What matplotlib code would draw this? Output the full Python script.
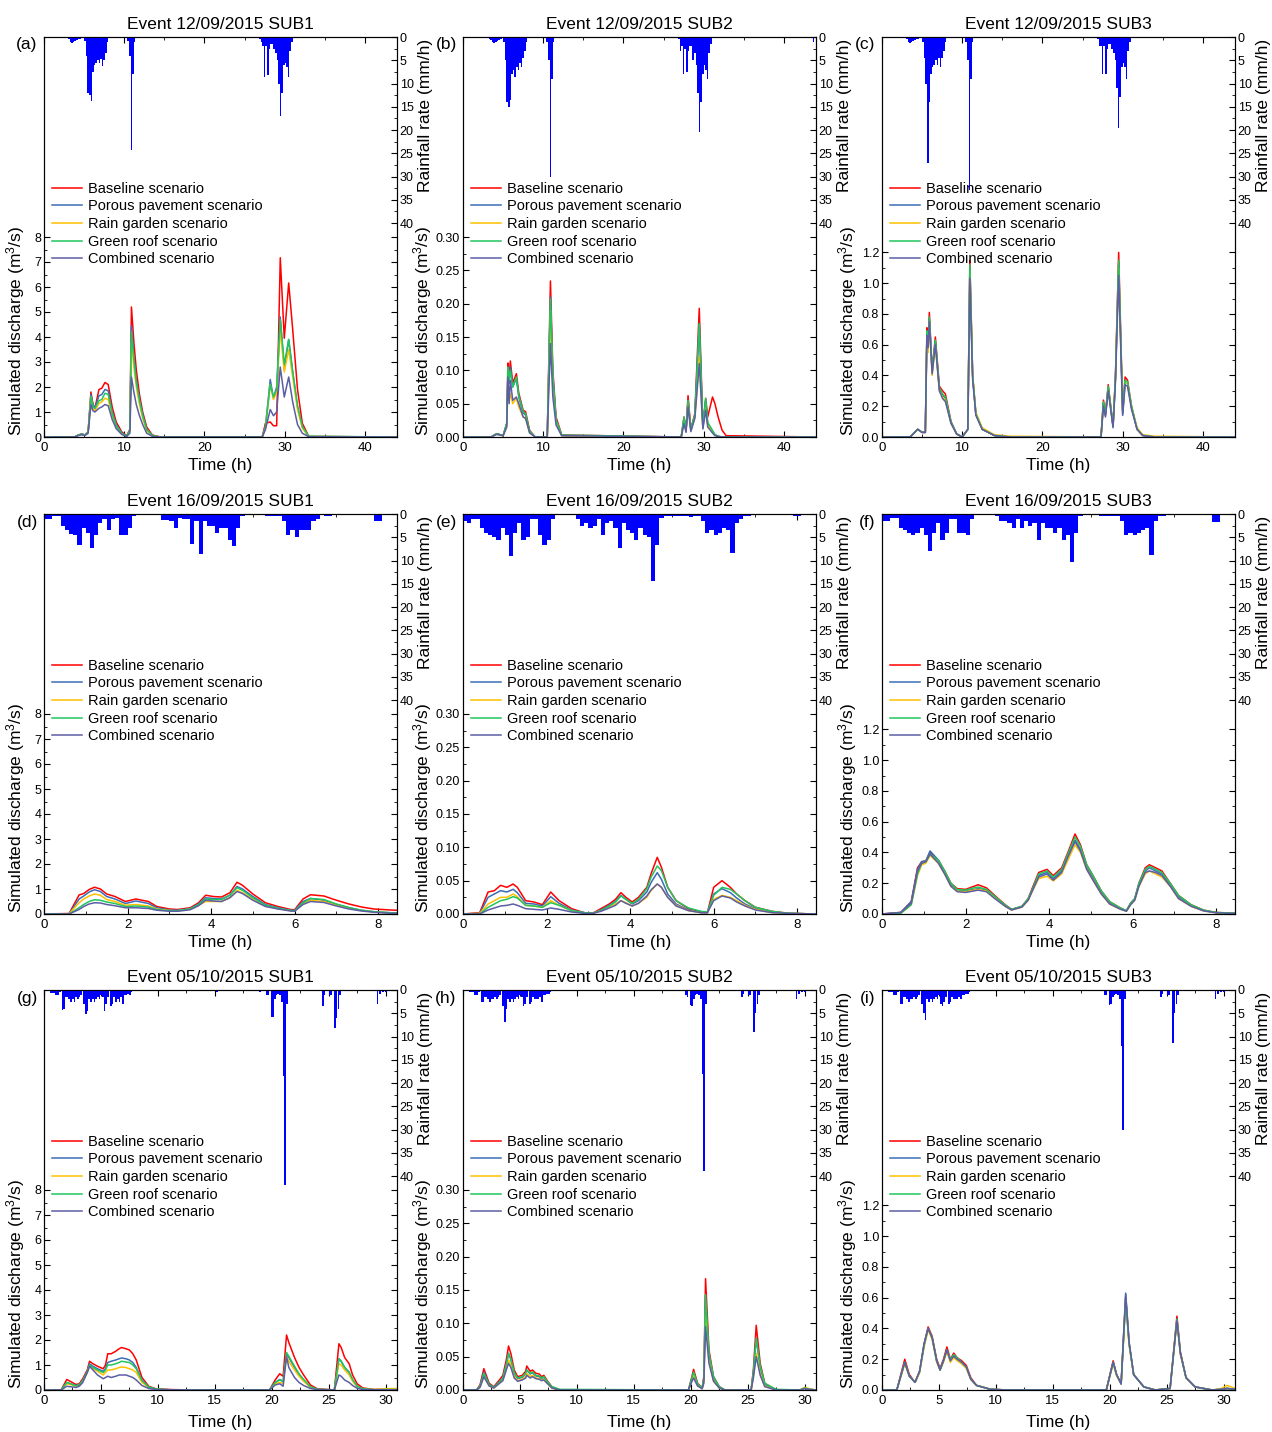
import matplotlib.pyplot as plt
from matplotlib.ticker import FixedLocator, MultipleLocator, FormatStrFormatter

plt.rcParams["font.family"] = ["Liberation Sans", "DejaVu Sans"]
plt.rcParams["font.size"] = 10
plt.rcParams["mathtext.default"] = "regular"
plt.rcParams["xtick.direction"] = "in"
plt.rcParams["ytick.direction"] = "in"

scenarios = ["Baseline scenario", "Porous pavement scenario", "Rain garden scenario",
             "Green roof scenario", "Combined scenario"]
line_colors = ["#ff0000", "#3a6db5", "#ffc000", "#22c55e", "#5c5ea5"]

# ---------------- rainfall (bar start time in h, rate in mm/h) ----------------
rain_t_ev1 = [2.8, 3.0, 3.2, 3.4, 3.6, 3.8, 4.0, 4.2, 4.4, 4.6,
              5.0, 5.2, 5.4, 5.6, 5.8, 6.0, 6.2, 6.4, 6.6, 6.8, 7.0, 7.2, 7.4, 7.6, 7.8,
              10.4, 10.6, 10.8, 11.0, 11.2,
              26.8, 27.0, 27.2, 27.4, 27.6, 27.8, 28.0, 28.2, 28.4, 28.6, 28.8,
              29.0, 29.2, 29.4, 29.6, 29.8, 30.0, 30.2, 30.4, 30.6, 30.8,
              40.8, 43.6]
rain_a = [0.3, 0.4, 1.0, 1.3, 1.0, 0.8, 0.6, 0.5, 0.4, 0.3,
          0.8, 4.0, 12.0, 12.5, 13.8, 7.5, 6.0, 5.5, 5.0, 5.5, 4.8, 6.2, 5.0, 3.5, 1.0,
          0.8, 4.0, 24.2, 8.0, 1.0,
          0.5, 1.0, 2.0, 8.7, 2.0, 8.2, 2.5, 1.5, 1.5, 2.5, 3.5,
          5.0, 10.0, 17.0, 12.0, 6.0, 5.5, 6.5, 8.5, 3.0, 1.0,
          0.3, 0.3]
rain_b = [0.2, 0.3, 0.5, 0.6, 1.0, 1.2, 1.0, 0.8, 0.6, 0.5,
          1.0, 5.0, 14.0, 15.0, 13.5, 8.0, 7.0, 8.5, 6.5, 7.0, 5.5, 6.5, 4.5, 3.0, 1.0,
          1.0, 5.0, 30.0, 9.0, 1.0,
          0.5, 3.0, 2.0, 8.0, 2.5, 7.5, 3.0, 2.0, 2.0, 5.0, 3.5,
          6.0, 12.0, 20.5, 14.0, 8.0, 6.0, 7.0, 9.0, 3.5, 1.5,
          0.3, 1.0]
rain_c = [0.3, 0.5, 1.0, 1.2, 1.0, 0.8, 0.6, 0.5, 0.4, 0.3,
          1.0, 4.5, 10.0, 27.0, 14.0, 8.0, 6.5, 6.0, 5.0, 6.0, 4.5, 6.5, 4.5, 3.0, 1.0,
          1.0, 5.0, 33.0, 9.0, 1.0,
          0.5, 2.0, 2.0, 8.0, 2.0, 8.0, 2.5, 1.5, 1.5, 2.5, 3.5,
          5.0, 11.0, 19.5, 13.0, 6.5, 5.5, 6.5, 9.0, 3.0, 1.0,
          0.3, 0.3]

rain_t_ev2 = [0.0, 0.1, 0.2, 0.3, 0.4, 0.5, 0.6, 0.7, 0.8, 0.9,
              1.0, 1.1, 1.2, 1.3, 1.4, 1.5, 1.6, 1.7, 1.8, 1.9,
              2.0, 2.1, 2.2, 2.3, 2.4, 2.5, 2.6, 2.7, 2.8, 2.9,
              3.0, 3.1, 3.2, 3.3, 3.4, 3.5, 3.6, 3.7, 3.8, 3.9,
              4.0, 4.1, 4.2, 4.3, 4.4, 4.5, 4.6, 4.7, 4.8, 4.9,
              5.0, 5.1, 5.2, 5.3, 5.4, 5.5, 5.6, 5.7, 5.8, 5.9,
              6.0, 6.1, 6.2, 6.3, 6.4, 6.5, 6.6, 6.7, 6.8,
              7.9, 8.0]
rain_d = [1.0, 1.0, 0.5, 0.5, 2.5, 3.5, 4.2, 4.5, 6.7, 3.0,
          4.0, 7.3, 4.5, 2.0, 1.0, 3.5, 1.0, 0.8, 4.5, 4.5,
          3.0, 0.5, 0.2, 0.1, 0.1, 0.1, 0.2, 0.3, 1.2, 1.2,
          1.5, 3.0, 0.8, 1.0, 1.0, 6.5, 1.5, 8.5, 1.5, 2.5,
          2.5, 4.0, 3.0, 3.0, 5.5, 6.8, 3.0, 0.4, 0.3, 0.3,
          0.3, 0.3, 0.3, 0.4, 0.5, 0.4, 0.4, 1.5, 4.5, 3.5,
          5.0, 3.5, 3.5, 3.5, 1.5, 1.0, 0.3, 0.5, 0.5,
          1.5, 1.5]
rain_e = [1.5, 2.0, 1.0, 1.0, 3.0, 4.0, 4.5, 5.0, 5.5, 3.0,
          4.5, 9.0, 4.0, 2.0, 5.6, 5.0, 1.0, 1.0, 4.5, 6.7,
          5.5, 1.0, 0.3, 0.2, 0.2, 0.2, 0.3, 1.0, 2.5, 2.0,
          3.0, 2.5, 1.0, 4.5, 2.0, 1.5, 3.0, 7.4, 2.0, 3.5,
          4.0, 5.6, 3.0, 4.5, 5.0, 14.3, 6.7, 0.8, 0.5, 0.5,
          0.4, 0.4, 0.5, 0.5, 0.6, 0.5, 0.5, 1.5, 4.0, 3.5,
          4.5, 4.0, 3.0, 3.5, 8.4, 2.0, 1.0, 0.5, 0.5,
          0.5, 0.5]
rain_f = [1.5, 1.5, 0.8, 0.8, 3.0, 3.5, 4.0, 4.5, 4.0, 3.0,
          4.5, 8.0, 4.0, 2.0, 5.6, 4.0, 1.0, 1.0, 4.0, 4.0,
          4.5, 1.0, 0.2, 0.1, 0.1, 0.2, 0.3, 0.5, 1.5, 1.5,
          2.0, 3.0, 1.0, 3.0, 1.5, 2.5, 2.0, 5.6, 2.0, 3.0,
          3.0, 4.0, 3.0, 5.6, 4.5, 10.4, 4.0, 0.5, 0.3, 0.3,
          0.3, 0.3, 0.4, 0.4, 0.5, 0.4, 0.4, 1.5, 4.5, 4.0,
          4.5, 4.0, 3.5, 3.0, 8.9, 1.5, 0.5, 0.5, 0.3,
          1.7, 1.7]

rain_t_ev3 = [0.5, 0.65, 0.8, 1.0, 1.15, 1.3, 1.55, 1.7, 1.85, 2.0,
              2.15, 2.3, 2.45, 2.6, 2.75, 2.9, 3.05, 3.2, 3.45, 3.6,
              3.75, 3.9, 4.05, 4.2, 4.35, 4.5, 4.65, 4.8, 4.95, 5.1,
              5.25, 5.4, 5.55, 5.8, 5.95, 6.1, 6.25, 6.4, 6.55, 6.7,
              6.85, 7.0, 7.15, 7.3, 7.45, 7.6, 7.8, 8.1, 8.4, 8.7,
              15.1,
              18.0, 18.3, 18.6, 18.9, 19.2,
              19.5, 19.65, 19.9, 20.05, 20.2, 20.35, 20.5, 20.65, 20.8, 20.95, 21.1, 21.25,
              24.4, 24.55, 25.0, 25.15, 25.45, 25.6, 25.8, 25.95,
              29.2, 29.45, 29.7, 29.95]
rain_g = [0.7, 0.7, 0.7, 1.0, 1.0, 0.5, 4.2, 4.0, 1.5, 1.5,
          2.0, 2.5, 2.0, 2.5, 1.5, 2.0, 1.5, 1.0, 3.0, 5.2,
          4.5, 2.0, 2.5, 2.0, 2.5, 2.0, 1.5, 2.0, 1.0, 1.5,
          4.6, 3.0, 1.5, 3.5, 3.0, 1.5, 2.5, 2.0, 2.5, 1.5,
          3.0, 1.0, 1.0, 0.8, 1.0, 0.5, 0.3, 0.3, 0.3, 0.2,
          0.5,
          0.3, 0.3, 0.3, 0.4, 0.3,
          1.0, 1.0, 5.8, 5.8, 2.0, 1.0, 0.8, 1.0, 2.5, 18.5, 42.0, 3.0,
          3.5, 1.0, 1.0, 1.0, 8.2, 6.0, 4.0, 1.0,
          3.0, 0.8, 0.5, 0.5]
rain_h = [0.5, 0.5, 0.5, 1.0, 1.0, 0.5, 2.5, 2.5, 1.5, 1.5,
          2.0, 2.5, 2.0, 2.0, 1.5, 2.0, 1.5, 1.0, 3.5, 6.9,
          4.0, 2.0, 2.5, 2.0, 2.5, 2.0, 1.5, 2.0, 1.0, 1.5,
          3.5, 3.0, 1.5, 3.0, 2.5, 1.5, 2.0, 2.0, 2.0, 1.5,
          2.5, 1.0, 1.0, 0.8, 0.8, 0.5, 0.3, 0.3, 0.3, 0.2,
          0.3,
          0.3, 0.3, 0.3, 0.3, 0.3,
          1.0, 1.5, 3.2, 3.5, 2.0, 1.0, 0.8, 1.0, 2.0, 18.0, 39.0, 3.0,
          1.5, 0.8, 1.0, 1.0, 9.0, 5.0, 3.0, 1.0,
          2.0, 0.8, 0.5, 0.5]
rain_i = [0.5, 0.5, 0.5, 1.0, 1.0, 0.5, 3.0, 3.0, 1.5, 1.5,
          2.0, 2.5, 2.0, 2.0, 1.5, 2.0, 1.5, 1.0, 3.0, 5.0,
          6.5, 2.0, 2.5, 2.0, 2.5, 2.0, 1.5, 2.0, 1.0, 3.0,
          3.5, 2.5, 1.5, 3.0, 2.5, 1.5, 2.0, 2.0, 2.0, 1.5,
          2.0, 1.0, 1.0, 0.8, 0.8, 0.5, 0.3, 0.3, 0.3, 0.2,
          0.3,
          0.3, 0.3, 0.3, 0.3, 0.3,
          1.0, 1.0, 3.2, 3.0, 1.5, 1.0, 0.8, 1.0, 2.0, 12.0, 30.0, 2.0,
          1.5, 0.8, 1.0, 1.0, 11.4, 5.0, 3.0, 1.0,
          2.0, 0.8, 0.5, 0.5]

# ---------------- simulated discharge (m3/s) ----------------
# (a) event 12/09/2015 SUB1
t_a = [0, 3.8, 4.3, 4.7, 5.1, 5.5, 5.85, 6.1, 6.35, 6.85, 7.2, 7.6, 8.0, 8.5, 9.0,
       9.7, 10.3, 10.7, 10.9, 11.2, 11.5, 11.9, 12.3, 12.8, 13.5, 14.5,
       27.2, 27.6, 28.2, 28.6, 29.0, 29.45, 29.95, 30.5, 31.0, 31.6, 32.2, 33.0, 44]
qa_base = [0, 0, 0.08, 0.12, 0.08, 0.2, 1.8, 1.3, 1.15, 1.9, 1.95, 2.18, 2.1, 1.2, 0.6,
           0.2, 0.05, 0.3, 5.2, 3.8, 2.7, 1.7, 1.0, 0.4, 0.08, 0,
           0, 0.55, 0.6, 0.45, 0.45, 7.17, 3.95, 6.16, 4.3, 1.9, 0.55, 0.02, 0]
qa_pp = [0, 0, 0.08, 0.12, 0.08, 0.2, 1.7, 1.3, 1.15, 1.65, 1.7, 1.9, 1.85, 1.0, 0.5,
         0.15, 0.04, 0.25, 4.45, 3.2, 2.3, 1.5, 0.9, 0.3, 0.06, 0,
         0, 0.4, 2.3, 1.55, 2.0, 4.8, 2.7, 3.9, 2.6, 1.2, 0.4, 0.02, 0]
qa_rg = [0, 0, 0.07, 0.1, 0.07, 0.18, 1.6, 1.15, 1.05, 1.35, 1.4, 1.55, 1.5, 0.85, 0.4,
         0.12, 0.03, 0.22, 3.8, 2.8, 2.0, 1.3, 0.75, 0.25, 0.05, 0,
         0, 0.35, 2.1, 1.5, 1.8, 4.3, 2.6, 3.5, 2.4, 1.1, 0.35, 0.02, 0]
qa_gr = [0, 0, 0.08, 0.11, 0.07, 0.19, 1.6, 1.2, 1.15, 1.45, 1.5, 1.75, 1.7, 0.95, 0.45,
         0.14, 0.04, 0.25, 4.2, 3.1, 2.2, 1.45, 0.85, 0.3, 0.06, 0,
         0, 0.38, 2.1, 1.6, 1.9, 4.7, 2.9, 3.9, 2.6, 1.25, 0.42, 0.03, 0]
qa_cb = [0, 0, 0.06, 0.09, 0.06, 0.15, 1.3, 1.05, 1.0, 1.15, 1.2, 1.3, 1.25, 0.7, 0.33,
         0.1, 0.02, 0.15, 2.4, 1.8, 1.3, 0.85, 0.5, 0.15, 0.03, 0,
         0, 0.3, 1.1, 0.85, 1.0, 2.8, 1.6, 2.4, 1.4, 0.5, 0.15, 0.01, 0]

# (b) event 12/09/2015 SUB2
t_b = [0, 3.5, 4.2, 5.0, 5.45, 5.6, 5.75, 5.9, 6.2, 6.65, 6.95, 7.5, 7.8, 8.3, 9.0,
       10.5, 10.9, 11.2, 11.6, 12.3, 27.2, 27.55, 27.8, 28.05, 28.4, 28.9, 29.45, 29.9,
       30.25, 30.5, 31.1, 31.4, 31.8, 32.3, 32.8, 44]
qb_base = [0, 0, 0.005, 0.002, 0.02, 0.111, 0.09, 0.114, 0.081, 0.095, 0.066, 0.04, 0.038, 0.01, 0,
           0, 0.234, 0.1, 0.03, 0.003, 0, 0.03, 0.01, 0.062, 0.012, 0.035, 0.193, 0.015,
           0.058, 0.03, 0.06, 0.05, 0.03, 0.01, 0.002, 0]
qb_pp = [0, 0, 0.005, 0.002, 0.02, 0.1, 0.08, 0.105, 0.075, 0.088, 0.06, 0.036, 0.033, 0.008, 0,
         0, 0.21, 0.09, 0.025, 0.002, 0, 0.028, 0.01, 0.055, 0.01, 0.032, 0.17, 0.015,
         0.055, 0.02, 0.008, 0.003, 0.001, 0, 0, 0]
qb_rg = [0, 0, 0.004, 0.002, 0.015, 0.07, 0.055, 0.065, 0.05, 0.058, 0.045, 0.03, 0.028, 0.007, 0,
         0, 0.19, 0.08, 0.022, 0.002, 0, 0.025, 0.008, 0.05, 0.01, 0.03, 0.12, 0.013,
         0.045, 0.018, 0.007, 0.003, 0.001, 0, 0, 0]
qb_gr = [0, 0, 0.005, 0.002, 0.02, 0.105, 0.085, 0.1, 0.075, 0.09, 0.062, 0.038, 0.035, 0.009, 0,
         0, 0.207, 0.09, 0.026, 0.003, 0, 0.03, 0.01, 0.055, 0.011, 0.033, 0.17, 0.015,
         0.058, 0.022, 0.01, 0.004, 0.001, 0, 0, 0]
qb_cb = [0, 0, 0.004, 0.002, 0.015, 0.09, 0.05, 0.085, 0.055, 0.06, 0.05, 0.03, 0.028, 0.006, 0,
         0, 0.14, 0.06, 0.018, 0.002, 0, 0.02, 0.007, 0.045, 0.008, 0.028, 0.11, 0.012,
         0.04, 0.015, 0.006, 0.002, 0.001, 0, 0, 0]

# (c) event 12/09/2015 SUB3
t_c = [0, 3.5, 4.45, 5.0, 5.4, 5.6, 5.75, 5.9, 6.25, 6.65, 7.15, 7.55, 7.9, 8.6, 9.3,
       10.0, 10.7, 10.95, 11.3, 11.7, 12.5, 14.0, 16.0, 27.3, 27.6, 27.85, 28.2, 28.8,
       29.1, 29.5, 30.0, 30.3, 30.6, 31.1, 31.8, 32.5, 34.0, 44]
qc_base = [0, 0, 0.05, 0.03, 0.03, 0.71, 0.62, 0.81, 0.43, 0.65, 0.33, 0.3, 0.28, 0.1, 0.02,
           0, 0.05, 1.15, 0.4, 0.15, 0.05, 0.01, 0, 0, 0.24, 0.15, 0.34, 0.07,
           0.4, 1.2, 0.17, 0.39, 0.37, 0.2, 0.05, 0.01, 0, 0]
qc_pp = [0, 0, 0.05, 0.03, 0.03, 0.68, 0.6, 0.77, 0.42, 0.62, 0.31, 0.27, 0.25, 0.09, 0.02,
         0, 0.05, 1.1, 0.39, 0.15, 0.05, 0.01, 0, 0, 0.22, 0.14, 0.32, 0.07,
         0.38, 1.12, 0.15, 0.36, 0.35, 0.19, 0.05, 0.01, 0, 0]
qc_rg = [0, 0, 0.05, 0.03, 0.03, 0.6, 0.55, 0.75, 0.4, 0.6, 0.3, 0.26, 0.24, 0.09, 0.02,
         0, 0.05, 1.08, 0.4, 0.16, 0.06, 0.015, 0.005, 0, 0.2, 0.14, 0.31, 0.07,
         0.38, 1.1, 0.16, 0.36, 0.35, 0.2, 0.06, 0.015, 0.005, 0]
qc_gr = [0, 0, 0.05, 0.03, 0.03, 0.69, 0.6, 0.78, 0.43, 0.63, 0.32, 0.28, 0.26, 0.1, 0.02,
         0, 0.05, 1.12, 0.4, 0.15, 0.05, 0.01, 0, 0, 0.23, 0.15, 0.33, 0.07,
         0.39, 1.15, 0.16, 0.37, 0.36, 0.2, 0.05, 0.01, 0, 0]
qc_cb = [0, 0, 0.05, 0.03, 0.03, 0.66, 0.58, 0.75, 0.41, 0.6, 0.3, 0.25, 0.23, 0.09, 0.02,
         0, 0.05, 1.03, 0.37, 0.14, 0.05, 0.01, 0, 0, 0.2, 0.13, 0.3, 0.06,
         0.36, 1.05, 0.14, 0.34, 0.33, 0.18, 0.05, 0.01, 0, 0]

# (d) event 16/09/2015 SUB1
t_d = [0, 0.6, 0.84, 0.95, 1.08, 1.21, 1.35, 1.5, 1.7, 1.95, 2.2, 2.5, 2.7, 3.0, 3.2,
       3.5, 3.7, 3.87, 4.05, 4.25, 4.45, 4.62, 4.75, 5.0, 5.3, 5.6, 5.9, 6.0, 6.2, 6.38,
       6.7, 7.0, 7.3, 7.6, 7.9, 8.3, 8.45]
qd_base = [0, 0.02, 0.76, 0.82, 0.98, 1.07, 1.0, 0.8, 0.7, 0.5, 0.6, 0.5, 0.3, 0.2, 0.18,
           0.25, 0.45, 0.75, 0.7, 0.68, 0.85, 1.27, 1.15, 0.8, 0.45, 0.3, 0.18, 0.17, 0.6, 0.77,
           0.72, 0.55, 0.4, 0.28, 0.2, 0.16, 0.15]
qd_pp = [0, 0.01, 0.6, 0.72, 0.88, 0.97, 0.9, 0.7, 0.6, 0.42, 0.52, 0.42, 0.25, 0.16, 0.15,
         0.22, 0.4, 0.65, 0.62, 0.6, 0.75, 1.1, 1.0, 0.7, 0.38, 0.25, 0.15, 0.14, 0.5, 0.62,
         0.55, 0.38, 0.25, 0.15, 0.09, 0.05, 0.04]
qd_rg = [0, 0.01, 0.45, 0.6, 0.72, 0.8, 0.75, 0.58, 0.5, 0.35, 0.38, 0.32, 0.2, 0.14, 0.13,
         0.2, 0.35, 0.5, 0.5, 0.5, 0.65, 0.95, 0.85, 0.6, 0.33, 0.22, 0.13, 0.12, 0.42, 0.55,
         0.5, 0.35, 0.23, 0.14, 0.08, 0.04, 0.03]
qd_gr = [0, 0, 0.25, 0.38, 0.5, 0.57, 0.55, 0.48, 0.42, 0.3, 0.32, 0.28, 0.18, 0.13, 0.13,
         0.2, 0.38, 0.6, 0.58, 0.58, 0.75, 1.05, 0.95, 0.65, 0.35, 0.23, 0.14, 0.13, 0.45, 0.62,
         0.58, 0.4, 0.26, 0.15, 0.09, 0.05, 0.04]
qd_cb = [0, 0, 0.18, 0.3, 0.4, 0.45, 0.44, 0.38, 0.33, 0.25, 0.25, 0.22, 0.15, 0.11, 0.11,
         0.17, 0.33, 0.55, 0.52, 0.5, 0.65, 0.9, 0.82, 0.55, 0.3, 0.2, 0.12, 0.11, 0.38, 0.5,
         0.46, 0.32, 0.2, 0.12, 0.07, 0.03, 0.03]

# (e) event 16/09/2015 SUB2
t_e = [0, 0.4, 0.6, 0.75, 0.9, 1.05, 1.2, 1.3, 1.5, 1.7, 1.9, 2.1, 2.3, 2.6, 2.9,
       3.1, 3.3, 3.5, 3.65, 3.78, 3.9, 4.05, 4.2, 4.4, 4.5, 4.65, 4.75, 4.9, 5.1, 5.4,
       5.7, 5.85, 6.0, 6.2, 6.4, 6.55, 6.75, 7.0, 7.4, 7.8, 8.45]
qe_base = [0, 0.002, 0.033, 0.035, 0.043, 0.04, 0.045, 0.04, 0.02, 0.018, 0.014, 0.033, 0.02, 0.008, 0.002,
           0.001, 0.008, 0.015, 0.022, 0.032, 0.025, 0.018, 0.025, 0.04, 0.06, 0.085, 0.07, 0.04, 0.02, 0.008,
           0.003, 0.002, 0.04, 0.05, 0.04, 0.03, 0.02, 0.01, 0.004, 0.001, 0]
qe_pp = [0, 0.001, 0.025, 0.03, 0.035, 0.033, 0.037, 0.032, 0.016, 0.015, 0.012, 0.026, 0.016, 0.006, 0.002,
         0.001, 0.006, 0.013, 0.019, 0.028, 0.022, 0.015, 0.02, 0.033, 0.047, 0.062, 0.052, 0.03, 0.015, 0.006,
         0.002, 0.002, 0.03, 0.038, 0.032, 0.024, 0.015, 0.008, 0.003, 0.001, 0]
qe_rg = [0, 0.001, 0.015, 0.02, 0.025, 0.025, 0.03, 0.026, 0.013, 0.012, 0.01, 0.02, 0.013, 0.005, 0.001,
         0.001, 0.005, 0.01, 0.015, 0.02, 0.017, 0.012, 0.016, 0.025, 0.035, 0.045, 0.04, 0.025, 0.013, 0.005,
         0.002, 0.002, 0.022, 0.028, 0.025, 0.02, 0.013, 0.007, 0.002, 0.001, 0]
qe_gr = [0, 0, 0.01, 0.015, 0.02, 0.022, 0.026, 0.024, 0.013, 0.012, 0.01, 0.017, 0.013, 0.005, 0.002,
         0.001, 0.005, 0.012, 0.018, 0.027, 0.022, 0.016, 0.022, 0.038, 0.055, 0.072, 0.065, 0.04, 0.02, 0.009,
         0.004, 0.003, 0.028, 0.04, 0.037, 0.03, 0.02, 0.01, 0.004, 0.001, 0]
qe_cb = [0, 0, 0.006, 0.009, 0.012, 0.013, 0.015, 0.013, 0.008, 0.007, 0.006, 0.009, 0.007, 0.003, 0.001,
         0.001, 0.004, 0.009, 0.013, 0.02, 0.016, 0.012, 0.016, 0.027, 0.036, 0.045, 0.04, 0.025, 0.012, 0.005,
         0.002, 0.002, 0.02, 0.027, 0.024, 0.018, 0.012, 0.006, 0.002, 0.001, 0]

# (f) event 16/09/2015 SUB3
t_f = [0, 0.45, 0.7, 0.85, 0.95, 1.05, 1.15, 1.35, 1.5, 1.65, 1.8, 2.0, 2.2, 2.3, 2.5,
       2.7, 2.95, 3.1, 3.35, 3.5, 3.6, 3.75, 3.95, 4.1, 4.3, 4.45, 4.62, 4.75, 4.9, 5.05,
       5.25, 5.45, 5.7, 5.85, 5.95, 6.05, 6.15, 6.3, 6.4, 6.55, 6.7, 6.9, 7.1, 7.4, 7.7,
       8.0, 8.45]
qf_base = [0, 0.01, 0.08, 0.3, 0.34, 0.345, 0.4, 0.35, 0.28, 0.2, 0.165, 0.16, 0.18, 0.19, 0.17,
           0.12, 0.06, 0.03, 0.05, 0.1, 0.17, 0.27, 0.29, 0.25, 0.3, 0.4, 0.52, 0.45, 0.32, 0.25,
           0.15, 0.08, 0.04, 0.02, 0.07, 0.1, 0.2, 0.3, 0.32, 0.3, 0.28, 0.2, 0.12, 0.06, 0.025,
           0.01, 0.005]
qf_pp = [0, 0.01, 0.08, 0.29, 0.34, 0.345, 0.41, 0.35, 0.27, 0.19, 0.155, 0.15, 0.16, 0.165, 0.155,
         0.11, 0.055, 0.028, 0.048, 0.095, 0.16, 0.25, 0.27, 0.23, 0.28, 0.38, 0.48, 0.42, 0.3, 0.23,
         0.14, 0.07, 0.035, 0.02, 0.065, 0.095, 0.19, 0.28, 0.3, 0.28, 0.26, 0.19, 0.11, 0.055, 0.022,
         0.009, 0.004]
qf_rg = [0, 0.005, 0.06, 0.25, 0.32, 0.33, 0.38, 0.33, 0.26, 0.18, 0.15, 0.145, 0.155, 0.16, 0.15,
         0.105, 0.05, 0.026, 0.045, 0.09, 0.15, 0.23, 0.245, 0.215, 0.26, 0.35, 0.45, 0.4, 0.29, 0.22,
         0.13, 0.065, 0.032, 0.018, 0.06, 0.09, 0.18, 0.26, 0.28, 0.26, 0.24, 0.18, 0.1, 0.05, 0.02,
         0.008, 0.004]
qf_gr = [0, 0.005, 0.06, 0.26, 0.33, 0.34, 0.39, 0.35, 0.28, 0.2, 0.16, 0.155, 0.17, 0.175, 0.16,
         0.115, 0.058, 0.03, 0.05, 0.1, 0.16, 0.26, 0.28, 0.24, 0.29, 0.39, 0.5, 0.44, 0.32, 0.25,
         0.15, 0.08, 0.04, 0.022, 0.07, 0.1, 0.2, 0.29, 0.31, 0.29, 0.27, 0.2, 0.12, 0.06, 0.025,
         0.01, 0.005]
qf_cb = [0, 0.01, 0.07, 0.28, 0.33, 0.34, 0.39, 0.33, 0.26, 0.18, 0.145, 0.14, 0.15, 0.155, 0.145,
         0.1, 0.05, 0.026, 0.045, 0.09, 0.15, 0.24, 0.26, 0.22, 0.27, 0.37, 0.47, 0.41, 0.29, 0.22,
         0.13, 0.065, 0.032, 0.018, 0.06, 0.09, 0.18, 0.27, 0.28, 0.27, 0.25, 0.18, 0.1, 0.05, 0.02,
         0.008, 0.004]

# (g) event 05/10/2015 SUB1
t_g = [0, 1.5, 2.0, 2.5, 2.8, 3.1, 3.4, 3.8, 4.0, 4.3, 4.7, 5.2, 5.4, 5.6, 5.9,
       6.3, 6.6, 6.8, 7.2, 7.5, 7.8, 8.1, 8.6, 9.2, 9.8, 11.0, 13.0, 19.8, 20.3, 20.7,
       21.0, 21.3, 21.5, 22.0, 22.4, 22.8, 23.4, 24.0, 25.5, 25.9, 26.1, 26.4, 26.8, 27.1, 27.5,
       28.0, 29.0, 30.0, 31.0]
qg_base = [0, 0, 0.42, 0.3, 0.22, 0.25, 0.45, 0.8, 1.15, 1.05, 0.95, 0.85, 1.0, 1.45, 1.45,
           1.55, 1.65, 1.7, 1.65, 1.6, 1.45, 1.2, 0.5, 0.15, 0.05, 0.02, 0, 0, 0.4, 0.65,
           0.55, 2.2, 1.9, 1.3, 0.9, 0.6, 0.2, 0.05, 0, 1.85, 1.7, 1.3, 1.05, 0.6, 0.25,
           0.08, 0.02, 0.03, 0.04]
qg_pp = [0, 0, 0.3, 0.22, 0.18, 0.2, 0.38, 0.75, 1.05, 0.95, 0.85, 0.75, 0.85, 1.1, 1.15,
         1.2, 1.25, 1.28, 1.25, 1.2, 1.1, 0.9, 0.4, 0.12, 0.04, 0.01, 0, 0, 0.3, 0.42,
         0.35, 1.45, 1.3, 0.9, 0.6, 0.4, 0.12, 0.03, 0, 1.25, 1.15, 0.9, 0.7, 0.4, 0.15,
         0.05, 0.01, 0.02, 0.02]
qg_rg = [0, 0, 0.25, 0.2, 0.15, 0.18, 0.35, 0.7, 0.95, 0.85, 0.75, 0.6, 0.7, 0.8, 0.8,
         0.85, 0.9, 0.92, 0.9, 0.85, 0.8, 0.7, 0.3, 0.1, 0.03, 0.01, 0, 0, 0.25, 0.3,
         0.25, 1.35, 1.15, 0.8, 0.55, 0.35, 0.1, 0.03, 0, 1.05, 1.0, 0.8, 0.6, 0.35, 0.13,
         0.04, 0.02, 0.05, 0.06]
qg_gr = [0, 0, 0.3, 0.22, 0.17, 0.2, 0.37, 0.72, 1.0, 0.9, 0.8, 0.7, 0.8, 1.0, 1.0,
         1.05, 1.1, 1.15, 1.12, 1.1, 1.0, 0.85, 0.38, 0.12, 0.04, 0.01, 0, 0, 0.3, 0.4,
         0.33, 1.5, 1.35, 0.95, 0.65, 0.42, 0.13, 0.03, 0, 1.25, 1.15, 0.9, 0.72, 0.42, 0.15,
         0.05, 0.01, 0.02, 0.02]
qg_cb = [0, 0, 0.15, 0.12, 0.1, 0.15, 0.3, 0.7, 0.95, 0.8, 0.6, 0.45, 0.5, 0.55, 0.5,
         0.55, 0.6, 0.6, 0.6, 0.55, 0.5, 0.4, 0.18, 0.06, 0.02, 0.01, 0, 0, 0.2, 0.25,
         0.15, 1.35, 0.9, 0.5, 0.3, 0.18, 0.06, 0.02, 0, 0.6, 0.55, 0.4, 0.3, 0.18, 0.07,
         0.02, 0.01, 0.01, 0.01]

# (h) event 05/10/2015 SUB2
t_h = [0, 1.2, 1.5, 1.83, 2.3, 2.7, 3.2, 3.5, 3.8, 4.0, 4.2, 4.5, 4.8, 5.2, 5.5,
       5.6, 5.9, 6.1, 6.4, 6.7, 6.9, 7.1, 7.4, 7.8, 8.5, 19.8, 20.1, 20.25, 20.6, 21.0,
       21.15, 21.3, 21.6, 22.0, 22.5, 23.0, 25.3, 25.5, 25.75, 26.1, 26.5, 27.5, 29.6, 30.0, 30.4,
       31.0]
qh_base = [0, 0, 0.008, 0.032, 0.01, 0.005, 0.015, 0.022, 0.045, 0.066, 0.055, 0.03, 0.02, 0.022, 0.028,
           0.036, 0.028, 0.03, 0.025, 0.024, 0.02, 0.022, 0.014, 0.005, 0, 0, 0.02, 0.031, 0.01, 0.003,
           0.02, 0.167, 0.06, 0.02, 0.005, 0, 0, 0.03, 0.097, 0.04, 0.01, 0, 0, 0.003, 0.001,
           0]
qh_pp = [0, 0, 0.006, 0.027, 0.008, 0.004, 0.012, 0.018, 0.038, 0.055, 0.046, 0.025, 0.017, 0.019, 0.024,
         0.03, 0.024, 0.026, 0.021, 0.02, 0.017, 0.019, 0.012, 0.004, 0, 0, 0.017, 0.025, 0.008, 0.002,
         0.015, 0.14, 0.05, 0.016, 0.004, 0, 0, 0.025, 0.078, 0.033, 0.008, 0, 0, 0.003, 0.001,
         0]
qh_rg = [0, 0, 0.005, 0.02, 0.006, 0.003, 0.01, 0.015, 0.032, 0.045, 0.038, 0.02, 0.014, 0.016, 0.02,
         0.025, 0.02, 0.022, 0.018, 0.017, 0.015, 0.016, 0.01, 0.003, 0, 0, 0.014, 0.022, 0.007, 0.002,
         0.012, 0.12, 0.045, 0.014, 0.003, 0, 0, 0.02, 0.055, 0.025, 0.006, 0, 0, 0.004, 0.002,
         0]
qh_gr = [0, 0, 0.006, 0.025, 0.008, 0.004, 0.012, 0.018, 0.038, 0.055, 0.047, 0.026, 0.018, 0.02, 0.025,
         0.03, 0.025, 0.027, 0.022, 0.021, 0.018, 0.02, 0.013, 0.005, 0.001, 0, 0.018, 0.027, 0.009, 0.003,
         0.018, 0.143, 0.055, 0.02, 0.005, 0, 0, 0.026, 0.078, 0.036, 0.01, 0.001, 0, 0.003, 0.001,
         0]
qh_cb = [0, 0, 0.004, 0.02, 0.006, 0.003, 0.01, 0.014, 0.03, 0.04, 0.034, 0.018, 0.013, 0.015, 0.018,
         0.022, 0.018, 0.02, 0.017, 0.016, 0.014, 0.015, 0.01, 0.003, 0, 0, 0.013, 0.018, 0.006, 0.002,
         0.01, 0.095, 0.04, 0.013, 0.003, 0, 0, 0.018, 0.05, 0.022, 0.005, 0, 0, 0.002, 0.001,
         0]

# (i) event 05/10/2015 SUB3
t_i = [0, 1.3, 2.0, 2.4, 2.9, 3.3, 3.7, 4.05, 4.4, 4.8, 5.1, 5.4, 5.7, 6.0, 6.3,
       6.6, 7.0, 7.4, 7.8, 8.3, 9.5, 11.0, 19.7, 20.3, 20.6, 21.0, 21.4, 21.7, 22.1, 23.0,
       24.0, 25.3, 25.9, 26.2, 26.7, 27.5, 29.0, 29.8, 30.3, 31.0]
qi_base = [0, 0, 0.2, 0.1, 0.05, 0.12, 0.3, 0.41, 0.35, 0.2, 0.14, 0.2, 0.28, 0.2, 0.24,
           0.21, 0.19, 0.16, 0.08, 0.03, 0.005, 0, 0, 0.19, 0.1, 0.04, 0.6, 0.3, 0.1, 0.02,
           0, 0.01, 0.48, 0.25, 0.08, 0.02, 0, 0.005, 0.01, 0.005]
qi_pp = [0, 0, 0.18, 0.09, 0.05, 0.12, 0.3, 0.4, 0.34, 0.19, 0.13, 0.19, 0.26, 0.19, 0.22,
         0.2, 0.18, 0.15, 0.07, 0.03, 0.005, 0, 0, 0.18, 0.1, 0.04, 0.63, 0.31, 0.1, 0.02,
         0, 0.01, 0.46, 0.24, 0.08, 0.02, 0, 0.005, 0.01, 0.005]
qi_rg = [0, 0, 0.17, 0.09, 0.05, 0.11, 0.28, 0.39, 0.33, 0.18, 0.13, 0.18, 0.25, 0.18, 0.21,
         0.19, 0.17, 0.14, 0.07, 0.03, 0.005, 0, 0, 0.17, 0.09, 0.04, 0.58, 0.29, 0.1, 0.02,
         0, 0.01, 0.45, 0.23, 0.08, 0.02, 0, 0.01, 0.03, 0.01]
qi_gr = [0, 0, 0.18, 0.09, 0.05, 0.12, 0.29, 0.4, 0.34, 0.19, 0.13, 0.19, 0.26, 0.2, 0.23,
         0.21, 0.18, 0.15, 0.07, 0.03, 0.005, 0, 0, 0.18, 0.1, 0.04, 0.58, 0.3, 0.1, 0.02,
         0, 0.01, 0.46, 0.24, 0.08, 0.02, 0, 0.005, 0.01, 0.005]
qi_cb = [0, 0, 0.18, 0.09, 0.05, 0.12, 0.3, 0.4, 0.34, 0.19, 0.13, 0.19, 0.26, 0.19, 0.22,
         0.2, 0.18, 0.15, 0.07, 0.03, 0.005, 0, 0, 0.18, 0.1, 0.04, 0.62, 0.31, 0.1, 0.02,
         0, 0.01, 0.45, 0.24, 0.08, 0.02, 0, 0.005, 0.01, 0.005]

# axis settings per column type
q_ticks_sub1 = [0, 1, 2, 3, 4, 5, 6, 7, 8]
q_ticks_sub2 = [0.0, 0.05, 0.10, 0.15, 0.20, 0.25, 0.30]
q_ticks_sub3 = [0.0, 0.2, 0.4, 0.6, 0.8, 1.0, 1.2]
sub_axes = [  # (ylim top, major ticks, minor step, format, ylabel x in axes coords)
    (16, q_ticks_sub1, 0.5, "%d", -0.048),
    (0.6, q_ticks_sub2, 0.025, "%.2f", -0.081),
    (2.6, q_ticks_sub3, 0.1, "%.1f", -0.066),
]
event_axes = [  # (xmax, major, minor, rain bar width, xlabel pad)
    (44, 10, 5, 0.2, 3),
    (8.45, 2, 1, 0.1, 3),
    (31, 5, 2.5, 0.15, 6),
]
events = ["12/09/2015", "16/09/2015", "05/10/2015"]

panels = [
    ("(a)", t_a, [qa_base, qa_pp, qa_rg, qa_gr, qa_cb], rain_t_ev1, rain_a),
    ("(b)", t_b, [qb_base, qb_pp, qb_rg, qb_gr, qb_cb], rain_t_ev1, rain_b),
    ("(c)", t_c, [qc_base, qc_pp, qc_rg, qc_gr, qc_cb], rain_t_ev1, rain_c),
    ("(d)", t_d, [qd_base, qd_pp, qd_rg, qd_gr, qd_cb], rain_t_ev2, rain_d),
    ("(e)", t_e, [qe_base, qe_pp, qe_rg, qe_gr, qe_cb], rain_t_ev2, rain_e),
    ("(f)", t_f, [qf_base, qf_pp, qf_rg, qf_gr, qf_cb], rain_t_ev2, rain_f),
    ("(g)", t_g, [qg_base, qg_pp, qg_rg, qg_gr, qg_cb], rain_t_ev3, rain_g),
    ("(h)", t_h, [qh_base, qh_pp, qh_rg, qh_gr, qh_cb], rain_t_ev3, rain_h),
    ("(i)", t_i, [qi_base, qi_pp, qi_rg, qi_gr, qi_cb], rain_t_ev3, rain_i),
]

fig = plt.figure(figsize=(12.72, 14.32), dpi=100)
col_x = [44, 463, 882]
row_top = [37, 514, 990]
W, H = 353, 400

for k, (letter, t, qs, rt, rv) in enumerate(panels):
    r, c = divmod(k, 3)
    qtop, qticks, qminor, qfmt, ylab_x = sub_axes[c]
    xmax, xmaj, xmin, bar_w, xpad = event_axes[r]

    ax = fig.add_axes([col_x[c] / 1272, 1 - (row_top[r] + H) / 1432, W / 1272, H / 1432])
    for q, lab, col in zip(qs, scenarios, line_colors):
        ax.plot(t, q, color=col, lw=1.1, label=lab)
    ax.set_xlim(0, xmax)
    ax.set_ylim(0, qtop)
    ax.xaxis.set_major_locator(MultipleLocator(xmaj))
    ax.xaxis.set_minor_locator(MultipleLocator(xmin))
    ax.yaxis.set_major_locator(FixedLocator(qticks))
    n_minor = int(round(qticks[-1] / qminor))
    ax.yaxis.set_minor_locator(FixedLocator([qminor * j for j in range(1, n_minor, 2)]))
    ax.yaxis.set_major_formatter(FormatStrFormatter(qfmt))
    ax.set_xlabel("Time (h)", fontsize=12.5, labelpad=xpad)
    ax.set_ylabel("Simulated discharge (m$^3$/s)", fontsize=12.5)
    ax.yaxis.set_label_coords(ylab_x, 0.265)
    ax.set_title("Event %s SUB%d" % (events[r], c + 1), fontsize=12.5, pad=6)
    ax.text(-0.018, 0.98, letter, transform=ax.transAxes, ha="right", va="center", fontsize=12.5)
    ax.legend(loc="upper left", bbox_to_anchor=(0.023, 0.638), frameon=False, fontsize=10.5,
              handlelength=2.05, handletextpad=0.4, labelspacing=0.25, borderpad=0, borderaxespad=0)

    # rainfall on an inverted right axis
    ax2 = ax.twinx()
    ax2.bar(rt, rv, width=bar_w, align="edge", color="#0000ff", linewidth=0)
    ax2.set_ylim(86, 0)
    ax2.yaxis.set_major_locator(FixedLocator([0, 5, 10, 15, 20, 25, 30, 35, 40]))
    ax2.yaxis.set_minor_locator(FixedLocator([2.5, 7.5, 12.5, 17.5, 22.5, 27.5, 32.5, 37.5]))
    ax2.set_ylabel("Rainfall rate (mm/h)", fontsize=12.5, labelpad=3)
    ax2.yaxis.label.set_y(0.805)

    for a in (ax, ax2):
        a.tick_params(which="both", labelsize=9.5, direction="in")
        a.tick_params(which="major", length=4)
        a.tick_params(which="minor", length=2)
    ax.tick_params(which="both", top=True, right=True)
    ax.tick_params(axis="y", which="both", labelsize=9, pad=2)
    ax2.tick_params(axis="y", which="both", labelsize=9, pad=2)

fig.savefig("out.png", dpi=100)
